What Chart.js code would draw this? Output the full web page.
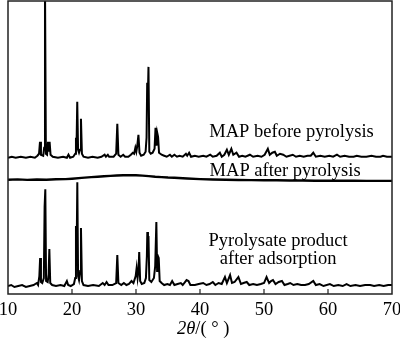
<!DOCTYPE html>
<html lang="en">
<head>
<meta charset="UTF-8">
<title>XRD patterns</title>
<script src="https://cdn.jsdelivr.net/npm/chart.js"></script>
<style>
    body { margin: 0; background: #fff; }
    .container { width: 400px; height: 340px; }
</style>
</head>
<body>
<div class="container"><canvas id="xrdChart"></canvas></div>
<script>
    // 2theta positions and intensities (arbitrary units)
    const beforeX = [10.0, 10.6, 11.2, 12.0, 12.8, 13.5, 14.2, 14.6, 14.85, 15.0, 15.15, 15.5, 15.65, 15.78, 15.92, 16.1, 16.25, 16.38, 16.5, 16.65, 17.0, 17.8, 18.6, 19.2, 19.45, 19.7, 20.2, 20.5, 20.62, 20.7, 20.82, 20.95, 21.1, 21.25, 21.4, 21.55, 21.8, 22.5, 23.2, 24.0, 24.6, 25.1, 25.3, 25.6, 25.8, 26.5, 26.9, 27.08, 27.25, 27.6, 28.0, 28.3, 28.8, 29.2, 29.5, 29.7, 29.9, 30.05, 30.2, 30.38, 30.55, 30.8, 31.2, 31.5, 31.65, 31.75, 31.85, 31.95, 32.08, 32.3, 32.6, 32.9, 33.05, 33.2, 33.32, 33.45, 33.6, 34.0, 34.4, 34.8, 35.3, 35.6, 36.0, 36.4, 36.8, 37.3, 37.8, 38.0, 38.3, 38.6, 39.2, 39.8, 40.5, 41.0, 41.6, 42.0, 42.6, 43.1, 43.4, 43.8, 44.2, 44.5, 44.9, 45.2, 45.7, 46.1, 46.6, 47.1, 47.8, 48.3, 49.0, 49.6, 50.1, 50.6, 50.9, 51.3, 51.7, 52.0, 52.5, 53.0, 53.5, 54.0, 54.5, 55.0, 55.6, 56.2, 56.8, 57.3, 57.7, 58.1, 58.8, 59.5, 60.2, 60.8, 61.4, 61.9, 62.6, 63.3, 64.0, 64.5, 65.2, 66.0, 66.8, 67.5, 68.2, 68.6, 69.2, 70.0];
    const beforeY = [0, 1, 0, 1, 0, 1, 0, 2, 4, 16, 3, 2, 10, 175, 4, 3, 16, 6, 16, 3, 1, 0, 1, 0, 3, 0, 1, 4, 20, 8, 56, 8, 5, 8, 39, 4, 1, 0, 1, 0, 1, 3, 1, 3, 1, 1, 4, 34, 3, 1, 3, 1, 1, 3, 5, 4, 10, 6, 12, 23, 5, 2, 3, 6, 20, 75, 60, 91, 6, 4, 5, 9, 30, 12, 25, 21, 5, 3, 2, 1, 3, 1, 3, 1, 2, 1, 4, 2, 5, 1, 2, 1, 2, 1, 3, 1, 2, 5, 1, 3, 8, 3, 9, 3, 5, 1, 2, 1, 3, 1, 2, 1, 3, 9, 3, 5, 6, 2, 4, 3, 1, 2, 3, 1, 2, 1, 2, 2, 5, 1, 2, 1, 2, 1, 3, 1, 2, 1, 1, 2, 1, 1, 2, 1, 1, 2, 1, 1];

    const afterX = [10, 11.5, 13, 14.5, 16, 17.5, 19, 20, 21.5, 23, 24, 25, 26, 27, 28, 29, 30, 31, 32, 33, 34, 35, 36, 38, 40, 42, 44, 46, 48, 50, 52, 54, 56, 58, 60, 62, 64, 66, 68, 70];
    const afterY = [0, 0.3, -0.2, 0.2, 0, 0.4, 0.6, 1, 1.8, 2.6, 3.0, 3.4, 3.8, 4.2, 4.5, 4.6, 4.5, 4.1, 3.6, 3.0, 2.6, 2.2, 2.0, 1.2, 0.6, 0.2, 0, -0.3, -0.4, -0.6, -0.6, -0.8, -0.8, -1.0, -1.0, -1.1, -1.0, -1.2, -1.2, -1.2];

    const adsorbX = [10.0, 10.5, 11.0, 11.6, 12.2, 12.8, 13.4, 14.0, 14.5, 14.7, 14.9, 15.02, 15.15, 15.35, 15.6, 15.72, 15.83, 15.95, 16.2, 16.35, 16.46, 16.6, 16.9, 17.5, 18.2, 18.8, 19.2, 19.4, 19.8, 20.3, 20.5, 20.62, 20.72, 20.83, 20.95, 21.1, 21.28, 21.4, 21.55, 21.8, 22.5, 23.3, 24.2, 24.8, 25.1, 25.4, 25.7, 26.3, 26.9, 27.08, 27.25, 27.7, 28.1, 28.5, 28.9, 29.3, 29.6, 29.95, 30.1, 30.25, 30.4, 30.5, 30.65, 30.9, 31.3, 31.55, 31.7, 31.77, 31.87, 31.95, 32.08, 32.4, 32.8, 33.0, 33.18, 33.3, 33.42, 33.55, 33.7, 34.0, 34.4, 34.9, 35.3, 35.65, 36.0, 36.5, 37.0, 37.3, 37.9, 38.2, 38.5, 39.2, 39.8, 40.5, 41.0, 41.5, 42.0, 42.4, 42.9, 43.4, 43.9, 44.2, 44.7, 45.0, 45.4, 46.0, 46.4, 46.8, 47.3, 47.7, 48.3, 48.9, 49.5, 50.0, 50.4, 50.8, 51.1, 51.4, 51.8, 52.3, 52.8, 53.2, 53.7, 54.1, 54.6, 55.2, 55.8, 56.4, 57.0, 57.7, 58.1, 58.7, 59.3, 60.3, 60.9, 61.6, 62.3, 62.9, 63.5, 64.3, 65.0, 65.8, 66.6, 67.2, 68.0, 68.7, 69.4, 70.0];
    const adsorbY = [0, 1, -1, 0, 1, -1, 0, 1, 3, 1, 10, 28, 4, 3, 8, 79, 97, 5, 4, 12, 37, 3, 1, 0, 1, 0, 5, 1, 0, 2, 8, 60, 30, 104, 10, 6, 15, 58, 5, 1, 0, 1, 0, 3, 1, 4, 1, 1, 3, 31, 3, 1, 3, 1, 2, 5, 3, 10, 18, 8, 16, 34, 5, 2, 3, 8, 30, 54, 40, 50, 6, 4, 8, 20, 64, 15, 30, 28, 5, 3, 1, 2, 1, 5, 1, 2, 3, 1, 6, 5, 1, 1, 2, 3, 1, 2, 4, 1, 3, 2, 9, 3, 11, 3, 4, 9, 2, 3, 4, 1, 2, 1, 2, 3, 9, 3, 5, 6, 2, 4, 5, 1, 2, 3, 1, 2, 1, 1, 2, 5, 1, 2, 0, 2, 0, 1, 0, 2, 0, 1, 0, 1, 1, 0, 1, 0, 1, 1];

    // vertical offsets used to stack the three patterns
    const beforeOffset = 136.5;
    const afterOffset = 114.5;
    const adsorbOffset = 8;

    const xTicks = [10, 20, 30, 40, 50, 60, 70];

    const serif = '"Liberation Serif", "Times New Roman", serif';

    function toPoints(xs, ys, offset) {
        return xs.map((x, i) => ({ x: x, y: ys[i] + offset }));
    }

    // frame, inward ticks, curve labels and axis title
    const decor = {
        id: 'decor',
        afterDraw(chart) {
            const ctx = chart.ctx;
            const a = chart.chartArea;
            const xs = chart.scales.x;
            const ys = chart.scales.y;
            ctx.save();
            ctx.strokeStyle = '#222';
            ctx.lineWidth = 1.5;
            ctx.strokeRect(a.left, a.top, a.right - a.left, a.bottom - a.top);
            ctx.lineWidth = 1.2;
            xTicks.slice(1, -1).forEach(t => {
                const px = xs.getPixelForValue(t);
                ctx.beginPath();
                ctx.moveTo(px, a.bottom);
                ctx.lineTo(px, a.bottom - 5);
                ctx.stroke();
            });

            ctx.fillStyle = '#000';
            ctx.textAlign = 'center';
            ctx.textBaseline = 'alphabetic';
            ctx.font = '18.5px ' + serif;
            ctx.fillText('MAP before pyrolysis', xs.getPixelForValue(54.3), ys.getPixelForValue(157));
            ctx.fillText('MAP after pyrolysis', xs.getPixelForValue(53.3), ys.getPixelForValue(118));
            ctx.fillText('Pyrolysate product', xs.getPixelForValue(52.2), ys.getPixelForValue(48.5));
            ctx.fillText('after adsorption', xs.getPixelForValue(52.2), ys.getPixelForValue(30.5));

            // x-axis title: 2θ/(°)
            const cx = xs.getPixelForValue(40.5);
            const ty = 334;
            ctx.font = 'italic 18.5px ' + serif;
            const w1 = ctx.measureText('2θ').width;
            ctx.font = '18.5px ' + serif;
            const w2 = ctx.measureText('/( ° )').width;
            let x0 = cx - (w1 + w2) / 2;
            ctx.textAlign = 'left';
            ctx.font = 'italic 18.5px ' + serif;
            ctx.fillText('2θ', x0, ty);
            ctx.font = '18.5px ' + serif;
            ctx.fillText('/( ° )', x0 + w1, ty);
            ctx.restore();
        }
    };

    const lineStyle = { borderColor: '#000', pointRadius: 0, tension: 0, fill: false };

    new Chart(document.getElementById('xrdChart'), {
        type: 'line',
        data: {
            datasets: [
                Object.assign({ label: 'MAP before pyrolysis', data: toPoints(beforeX, beforeY, beforeOffset), borderWidth: 2 }, lineStyle),
                Object.assign({ label: 'MAP after pyrolysis', data: toPoints(afterX, afterY, afterOffset), borderWidth: 2.4 }, lineStyle),
                Object.assign({ label: 'Pyrolysate product after adsorption', data: toPoints(adsorbX, adsorbY, adsorbOffset), borderWidth: 2 }, lineStyle)
            ]
        },
        options: {
            responsive: true,
            maintainAspectRatio: false,
            animation: false,
            layout: { padding: { top: 1, left: 8, right: 8, bottom: 0 } },
            plugins: {
                legend: { display: false },
                tooltip: { enabled: false }
            },
            scales: {
                x: {
                    type: 'linear',
                    min: 10,
                    max: 70,
                    afterBuildTicks: s => { s.ticks = xTicks.map(v => ({ value: v })); },
                    afterFit: s => {
                        s.height = 46;
                        s.paddingLeft = 0;
                        s.paddingRight = 0;
                    },
                    grid: { display: false, drawTicks: false },
                    border: { display: false },
                    ticks: {
                        color: '#000',
                        padding: 5,
                        maxRotation: 0,
                        font: { family: serif, size: 18.5 }
                    }
                },
                y: {
                    display: false,
                    min: 0,
                    max: 293.5
                }
            }
        },
        plugins: [decor]
    });
</script>
</body>
</html>
